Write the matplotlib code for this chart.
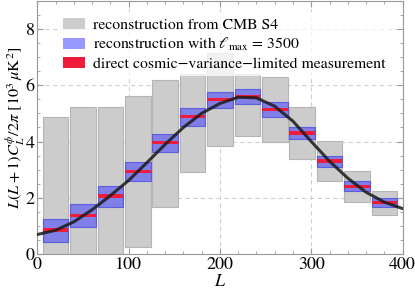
import matplotlib.pyplot as plt
from matplotlib.patches import Patch
from matplotlib.ticker import MultipleLocator

plt.rcParams['font.family'] = 'STIXGeneral'
plt.rcParams['mathtext.fontset'] = 'stix'

# bin centres in L
centers = [20, 50, 80, 110, 140, 170, 200, 230, 260, 290, 320, 350, 380]

# CMB S4 reconstruction error boxes
s4_lo = [-1.0, -1.0, -1.0, 0.27, 1.69, 2.93, 3.83, 4.19, 4.00, 3.39, 2.59, 1.87, 1.40]
s4_hi = [4.86, 5.21, 5.21, 5.60, 6.20, 6.39, 7.13, 6.39, 6.28, 5.21, 4.02, 2.95, 2.26]

# lmax = 3500 reconstruction
lmax_lo = [0.45, 0.96, 1.69, 2.59, 3.62, 4.55, 5.20, 5.32, 4.88, 4.08, 3.11, 2.23, 1.69]
lmax_hi = [1.24, 1.78, 2.42, 3.27, 4.27, 5.18, 5.77, 5.85, 5.39, 4.52, 3.50, 2.59, 2.00]

# direct cosmic-variance-limited measurement
cv_val = [0.86, 1.38, 2.07, 2.94, 3.96, 4.88, 5.50, 5.59, 5.14, 4.30, 3.31, 2.41, 1.84]

# theory curve
L_curve = [0, 20, 40, 60, 80, 100, 120, 140, 160, 180, 200, 220, 240, 260, 280, 300, 320, 340, 360, 380, 400]
C_curve = [0.70, 0.85, 1.15, 1.58, 2.08, 2.62, 3.25, 3.90, 4.50, 5.00, 5.35, 5.57, 5.55, 5.25, 4.72, 4.00, 3.30, 2.70, 2.20, 1.85, 1.62]

fig = plt.figure(figsize=(4.15, 2.97), dpi=100)
ax = fig.add_axes([0.090, 0.144, 0.880, 0.854])

w = 28
gray = '#cccccc'
blue = (0.2, 0.2, 1.0, 0.5)
red = '#ee1c3a'

ax.bar(centers, [h - l for h, l in zip(s4_hi, s4_lo)], bottom=s4_lo, width=w,
       color=gray, edgecolor='#b5b5b5', linewidth=0.8, zorder=2)
ax.bar(centers, [h - l for h, l in zip(lmax_hi, lmax_lo)], bottom=lmax_lo, width=w,
       color=blue, edgecolor=(0.25, 0.25, 0.9, 0.7), linewidth=0.8, zorder=3)
ax.bar(centers, 0.12, bottom=[v - 0.06 for v in cv_val], width=w,
       color=red, linewidth=0, zorder=4)

ax.plot(L_curve, C_curve, color='#1a1a1a', lw=2.2, alpha=0.85, zorder=5,
        solid_capstyle='round')

ax.set_xlim(0, 400)
ax.set_ylim(0, 9)
ax.xaxis.set_major_locator(MultipleLocator(100))
ax.xaxis.set_minor_locator(MultipleLocator(20))
ax.yaxis.set_major_locator(MultipleLocator(2))
ax.yaxis.set_minor_locator(MultipleLocator(0.5))
ax.tick_params(which='both', direction='in', top=True, right=True,
               color='#999999', labelsize=13, pad=2)
ax.tick_params(which='major', length=4)
ax.tick_params(which='minor', length=2.5)
for s in ax.spines.values():
    s.set_color('#999999')
ax.grid(True, which='major', ls=(0, (4, 3)), color='#cfcfcf', lw=0.8, zorder=1)
ax.set_axisbelow(True)

ax.set_xlabel(r'$L$', fontsize=13, labelpad=1)
ax.set_ylabel(r'$L(L+1)C_L^{\phi}/2\pi$ [$10^3\,\mu$K$^2$]', fontsize=11.8, labelpad=-1)

handles = [Patch(facecolor=gray, edgecolor='none'),
           Patch(facecolor=blue, edgecolor='none'),
           Patch(facecolor=red, edgecolor='none')]
labels = ['reconstruction from CMB S4',
          r'reconstruction with $\ell_{\rm max}$ = 3500',
          'direct cosmic\u2212variance\u2212limited measurement']
leg = ax.legend(handles, labels, loc='upper left', bbox_to_anchor=(0.035, 0.985),
                fontsize=11.3, frameon=True, framealpha=0.75, edgecolor='none',
                fancybox=False, handlelength=1.4, handleheight=0.7,
                labelspacing=0.25, borderpad=0.35, handletextpad=0.5)
leg.set_zorder(10)

fig.savefig('out.png', dpi=100)
